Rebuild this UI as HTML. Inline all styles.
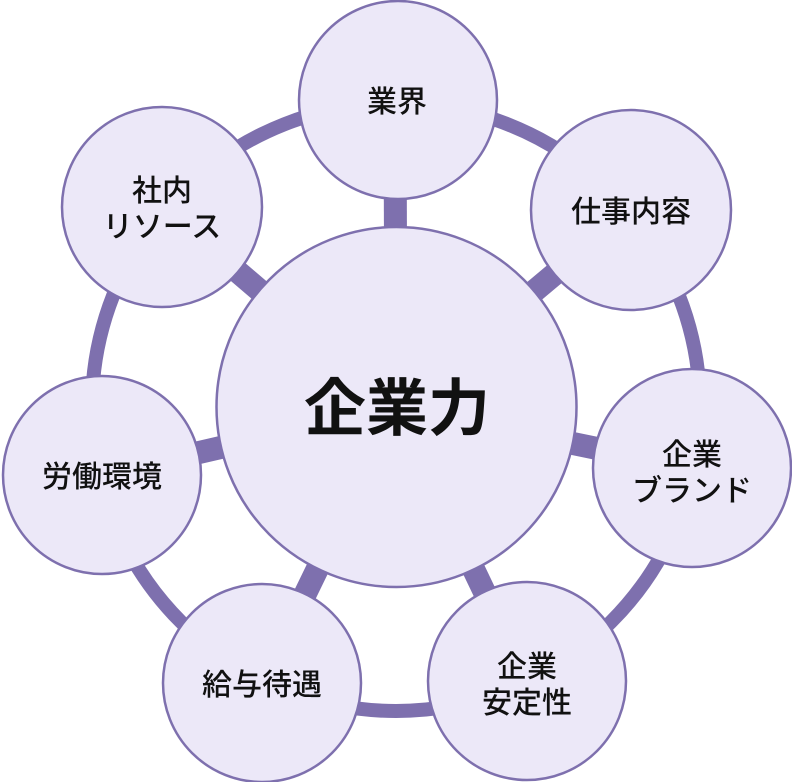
<!DOCTYPE html><html><head><meta charset="utf-8"><style>body{margin:0;background:#fff}svg{display:block}text{font-family:"Liberation Sans","Noto Sans CJK JP",sans-serif;fill:#111;text-anchor:middle}</style></head><body>
<svg width="792" height="782" viewBox="0 0 792 782">
<g stroke="#7e70ae" fill="none">
<circle cx="396" cy="407" r="304" stroke-width="14"/>
<g stroke-width="23">
<line x1="396" y1="407" x2="395" y2="100"/>
<line x1="396" y1="407" x2="631" y2="210"/>
<line x1="396" y1="407" x2="692" y2="468"/>
<line x1="396" y1="407" x2="527" y2="681"/>
<line x1="396" y1="407" x2="262" y2="683"/>
<line x1="396" y1="407" x2="102" y2="475"/>
<line x1="396" y1="407" x2="162" y2="207"/>
</g></g>
<g fill="#ece8f8" stroke="#7e70ae" stroke-width="2.5">
<circle cx="396.5" cy="407" r="180"/>
<circle cx="398" cy="100" r="99"/>
<circle cx="631" cy="210" r="100"/>
<circle cx="692" cy="468" r="99"/>
<circle cx="527" cy="681" r="99"/>
<circle cx="262" cy="683" r="99"/>
<circle cx="102" cy="475" r="99"/>
<circle cx="162" cy="207" r="100"/>
</g>
<text x="397" y="430" font-size="62" font-weight="bold">企業力</text>
<g font-size="30" font-weight="500">
<text x="397" y="112">業界</text>
<text x="631" y="222">仕事内容</text>
<text x="692" y="465">企業</text><text x="692" y="501">ブランド</text>
<text x="527" y="677">企業</text><text x="527" y="713">安定性</text>
<text x="262" y="695">給与待遇</text>
<text x="102" y="487">労働環境</text>
<text x="162" y="201">社内</text><text x="162" y="237">リソース</text>
</g>
</svg></body></html>
